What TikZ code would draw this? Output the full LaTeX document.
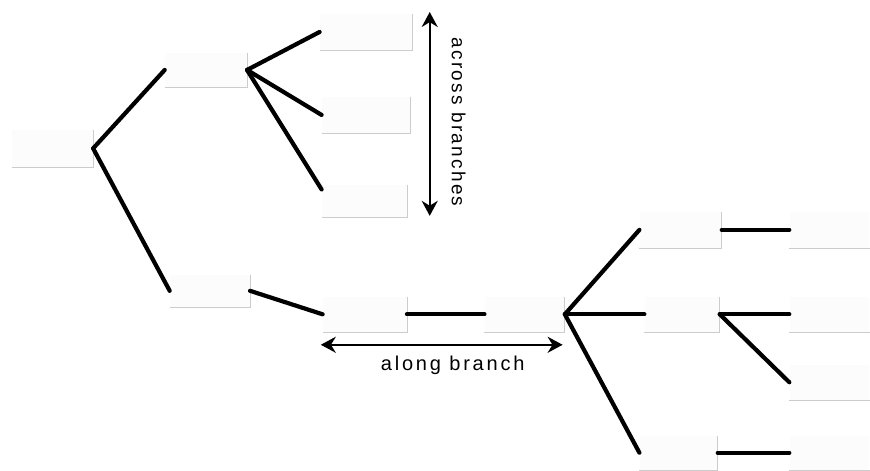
\documentclass[tikz,border=0pt]{standalone}
\usepackage{fontspec}
\setmainfont{Liberation Sans}
\usetikzlibrary{arrows.meta}
\begin{document}
\begin{tikzpicture}[x=1pt,y=-1pt,
  box/.style={rectangle, inner sep=0pt, fill=gray!2, draw=none, minimum width=#1},
  box/.default=80pt,
  rim/.style={draw=gray!40, line width=0.7pt},
  branch/.style={line width=4.2pt, black, line cap=round},
  measure/.style={{Stealth[length=15pt,width=16pt]}-{Stealth[length=15pt,width=16pt]}, line width=2.3pt, black},
  lab/.style={font=\fontsize{19pt}{21pt}\selectfont\addfontfeatures{LetterSpace=12}, inner sep=0pt}
]
\path[fill=white] (0,0) rectangle (870,470);
% boxes
\node[box=81pt, minimum height=37pt] (R)  at (52.5,148.5) {};
\node[box=82pt, minimum height=34pt] (A)  at (206,70) {};
\node[box=80pt, minimum height=32pt] (B)  at (210,291) {};
\node[box=92pt, minimum height=36pt] (C1) at (366,32) {};
\node[box=88pt, minimum height=36pt] (C2) at (366,115) {};
\node[box=85pt, minimum height=32pt] (C3) at (364.5,201) {};
\node[box=84pt, minimum height=35pt] (D)  at (365,314.5) {};
\node[box=80pt, minimum height=35pt] (E)  at (525,314.5) {};
\node[box=82pt, minimum height=36pt] (F1) at (681,230) {};
\node[box=75pt, minimum height=35pt] (F2) at (682.5,314.5) {};
\node[box=78pt, minimum height=34pt] (F3) at (679,453) {};
\node[box=80pt, minimum height=36pt] (G1) at (830,230) {};
\node[box=80pt, minimum height=35pt] (G2) at (830,314.5) {};
\node[box=80pt, minimum height=35pt] (G3) at (830,382.5) {};
\node[box=80pt, minimum height=34pt] (G4) at (830,453) {};
\foreach \n in {R,A,B,C1,C2,C3,D,E,F1,F2,F3}
  \draw[rim] (\n.north east) -- (\n.south east) -- (\n.south west);
\foreach \n in {G1,G2,G3,G4}
  \draw[rim] (\n.south east) -- (\n.south west);
% branches
\draw[branch] (R.east) -- (A.west);
\draw[branch] (R.east) -- (B.west);
\draw[branch] (A.east) -- (C1.west);
\draw[branch] (A.east) -- (C2.west);
\draw[branch] (A.east) -- (C3.165);
\draw[branch] (B.east) -- (D.west);
\draw[branch] (D.east) -- (E.west);
\draw[branch] (E.east) -- (F1.west);
\draw[branch] (E.east) -- (F2.west);
\draw[branch] (E.east) -- (F3.west);
\draw[branch] (F1.east) -- (G1.west);
\draw[branch] (F2.east) -- (G2.west);
\draw[branch] (F2.east) -- (G3.west);
\draw[branch] (F3.east) -- (G4.west);
% measures
\coordinate (vt) at (430,12);
\coordinate (vb) at (430,216);
\coordinate (hl) at (321,345);
\coordinate (hr) at (563,345);
\draw[measure] (vt) -- (vb);
\draw[measure] (hl) -- (hr);
\node[lab, font=\fontsize{20pt}{22pt}\selectfont\addfontfeatures{LetterSpace=14}] (along) at (453,366) {along branch};
\node[lab, rotate=-90] (across) at (459,122) {across branches};
\end{tikzpicture}
\end{document}
